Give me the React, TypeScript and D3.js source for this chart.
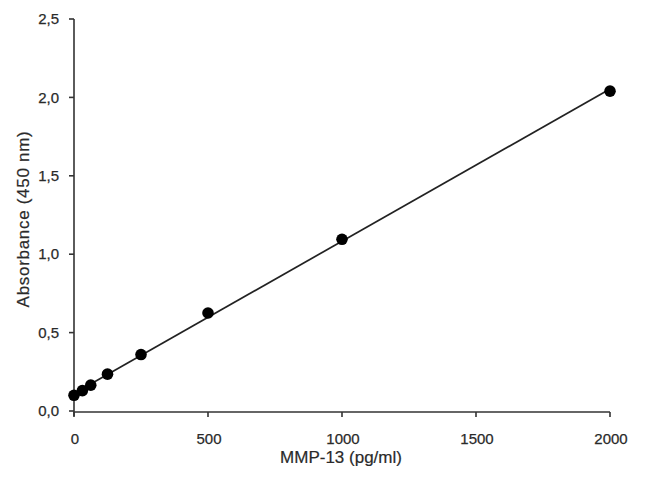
import React from "react";
import * as d3 from "d3";

const concentrations = [0, 31.25, 62.5, 125, 250, 500, 1000, 2000];
const absorbance = [0.1, 0.13, 0.165, 0.235, 0.36, 0.625, 1.095, 2.04];
const xTicks = [0, 500, 1000, 1500, 2000];
const yTicks = [0, 0.5, 1.0, 1.5, 2.0, 2.5];
const xTitle = "MMP-13 (pg/ml)";
const yTitle = "Absorbance (450 nm)";

export default function App() {
  const W = 650, H = 494;
  const x = d3.scaleLinear().domain([0, 2000]).range([74, 610]);
  const y = d3.scaleLinear().domain([0, 2.5]).range([411, 19]);
  const pts = concentrations.map((c, i) => [c, absorbance[i]] as [number, number]);
  const mx = d3.mean(concentrations)!, my = d3.mean(absorbance)!;
  const slope = d3.sum(pts, p => (p[0] - mx) * (p[1] - my)) / d3.sum(pts, p => (p[0] - mx) ** 2);
  const icpt = my - slope * mx;
  const line = d3.line<number>().x(c => x(c)).y(c => y(icpt + slope * c));
  const font = "'Liberation Sans', Arial, sans-serif";
  const col = "#2a2a2a";
  const fmt = (v: number) => v.toFixed(1).replace(".", ",");
  return (
    <svg width={W} height={H} style={{ position: "absolute", left: 0, top: 0, background: "#fff" }} fontFamily={font}>
      <line x1={x(0)} x2={x(0)} y1={y(2.5)} y2={y(0) + 5} stroke="#333" strokeWidth={1.6} />
      <line x1={x(0)} x2={x(2000)} y1={y(0) + 1} y2={y(0) + 1} stroke="#333" strokeWidth={1.6} />
      {yTicks.map(t => (
        <g key={"y" + t}>
          <line x1={x(0) - 5} x2={x(0)} y1={y(t)} y2={y(t)} stroke="#333" strokeWidth={1.6} />
          <text x={x(0) - 15} y={y(t)} dy="0.35em" textAnchor="end" fontSize={15} fill={col} stroke={col} strokeWidth={0.25}>{fmt(t)}</text>
        </g>
      ))}
      {xTicks.map(t => (
        <g key={"x" + t}>
          <line x1={x(t)} x2={x(t)} y1={y(0) + 1} y2={y(0) + 6} stroke="#333" strokeWidth={1.6} />
          <text x={x(t) + 1} y={444} textAnchor="middle" fontSize={15} fill={col} stroke={col} strokeWidth={0.25}>{t}</text>
        </g>
      ))}
      <text x={341} y={463} textAnchor="middle" fontSize={17} fill={col} stroke={col} strokeWidth={0.2}>{xTitle}</text>
      <text transform={`translate(29,219) rotate(-90)`} textAnchor="middle" fontSize={17} letterSpacing={0.7} fill={col} stroke={col} strokeWidth={0.2}>{yTitle}</text>
      <path d={line([0, 2000]) || ""} fill="none" stroke="#222" strokeWidth={1.7} />
      {pts.map((p, i) => (
        <circle key={i} cx={x(p[0])} cy={y(p[1])} r={5.8} fill="#000" />
      ))}
    </svg>
  );
}
